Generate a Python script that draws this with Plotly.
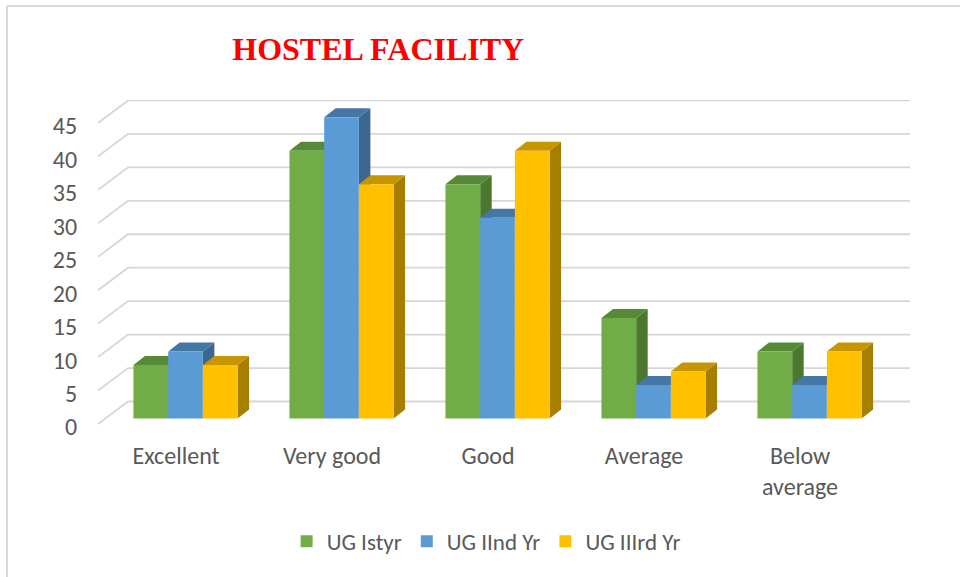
import plotly.graph_objects as go

# ---------------- data ----------------
categories = ["Excellent", "Very good", "Good", "Average", "Below average"]
category_labels = ["Excellent", "Very good", "Good", "Average", "Below<br>average"]
series_names = ["UG Istyr", "UG IInd Yr", "UG IIIrd Yr"]
ug_1st_yr = [8, 40, 35, 15, 10]
ug_2nd_yr = [10, 45, 30, 5, 5]
ug_3rd_yr = [8, 35, 40, 7, 10]
y_ticks = [0, 5, 10, 15, 20, 25, 30, 35, 40, 45]

series_values = [ug_1st_yr, ug_2nd_yr, ug_3rd_yr]

# ---------------- style ----------------
front_colors = ["#70AD47", "#5B9BD5", "#FFC000"]
top_colors = ["#578A37", "#4577A6", "#C79500"]
side_colors = ["#4B772F", "#3B6690", "#A67F00"]
text_color = "#595959"
grid_color = "#D6D6D6"
label_font = "Carlito, Calibri, Lato, sans-serif"

# geometry (pixel sizes converted to data units)
PX_X = 156.0       # px per category
PX_Y = 6.69        # px per value unit
PLOT_W, PLOT_H = 812, 331
X_MIN = -0.513
X_MAX = X_MIN + PLOT_W / PX_X
Y_MIN = -7 / PX_Y
Y_MAX = Y_MIN + PLOT_H / PX_Y
WALL_DX, WALL_DY = 30 / PX_X, 22.5 / PX_Y
BAR_DX, BAR_DY = 7.5 / PX_X, 5.6 / PX_Y
DEPTH_DX, DEPTH_DY = 11.5 / PX_X, 9.0 / PX_Y
BAR_W = 34.7 / PX_X

fig = go.Figure()

# back wall gridlines (with perspective diagonal on the left)
gx, gy = [], []
for t in y_ticks:
    gx += [X_MIN, X_MIN + WALL_DX, X_MAX, None]
    gy += [t, t + WALL_DY, t + WALL_DY, None]
fig.add_trace(go.Scatter(x=gx, y=gy, mode="lines",
                         line=dict(color=grid_color, width=1.8),
                         hoverinfo="skip", showlegend=False, zorder=-1))

# 3D bars
for k, (name, vals) in enumerate(zip(series_names, series_values)):
    xs = [i + BAR_DX + (k - 1) * BAR_W for i in range(len(categories))]
    tx, ty, sx, sy = [], [], [], []
    for xc, v in zip(xs, vals):
        x0, x1 = xc - BAR_W / 2, xc + BAR_W / 2
        top = BAR_DY + v
        tx += [x0, x1, x1 + DEPTH_DX, x0 + DEPTH_DX, x0, None]
        ty += [top, top, top + DEPTH_DY, top + DEPTH_DY, top, None]
        sx += [x1, x1, x1 + DEPTH_DX, x1 + DEPTH_DX, x1, None]
        sy += [BAR_DY, top, top + DEPTH_DY, BAR_DY + DEPTH_DY, BAR_DY, None]
    fig.add_trace(go.Scatter(x=sx, y=sy, mode="lines", fill="toself",
                             fillcolor=side_colors[k], line=dict(width=0, color=side_colors[k]),
                             hoverinfo="skip", showlegend=False, zorder=2 * k))
    fig.add_trace(go.Scatter(x=tx, y=ty, mode="lines", fill="toself",
                             fillcolor=top_colors[k], line=dict(width=0, color=top_colors[k]),
                             hoverinfo="skip", showlegend=False, zorder=2 * k))
    fig.add_trace(go.Bar(x=xs, y=vals, base=BAR_DY, width=BAR_W, name=name,
                         marker=dict(color=front_colors[k], line=dict(width=0)),
                         customdata=categories,
                         hovertemplate="%{customdata}: %{y}<extra>" + name + "</extra>",
                         zorder=2 * k + 1))

fig.update_layout(
    width=960, height=577,
    paper_bgcolor="white", plot_bgcolor="white",
    margin=dict(l=98, r=50, t=100, b=146),
    barmode="overlay",
    title=dict(text="<b>HOSTEL FACILITY</b>", xref="container", yref="container",
               x=0.394, xanchor="center", y=0.915, yanchor="middle",
               font=dict(family="Liberation Serif, Times New Roman, serif", size=32, color="#FF0000")),
    xaxis=dict(range=[X_MIN, X_MAX], tickvals=list(range(len(categories))), ticktext=category_labels,
               showgrid=False, zeroline=False, showline=False,
               ticks="outside", ticklen=3, tickcolor="rgba(0,0,0,0)", ticklabelshift=-2,
               tickfont=dict(family=label_font, size=24, color=text_color), fixedrange=True),
    yaxis=dict(range=[Y_MIN, Y_MAX], tickvals=y_ticks,
               showgrid=False, zeroline=False, showline=False,
               ticks="outside", ticklen=15, tickcolor="rgba(0,0,0,0)", ticklabelshift=3,
               tickfont=dict(family=label_font, size=24, color=text_color), fixedrange=True),
    legend=dict(orientation="h", x=0.478, xanchor="center", y=-0.333, yanchor="middle",
                font=dict(family=label_font, size=23, color=text_color),
                bgcolor="rgba(0,0,0,0)"),
    shapes=[
        dict(type="line", xref="paper", yref="paper", x0=-0.112, x1=1.07, y0=1.284, y1=1.284,
             line=dict(color="#D9D9D9", width=2)),
        dict(type="line", xref="paper", yref="paper", x0=-0.112, x1=-0.112, y0=1.284, y1=-0.45,
             line=dict(color="#D9D9D9", width=2)),
    ],
)

fig.write_html("out.html", config={"displayModeBar": False},
               post_script="document.body.style.margin='0px';")
